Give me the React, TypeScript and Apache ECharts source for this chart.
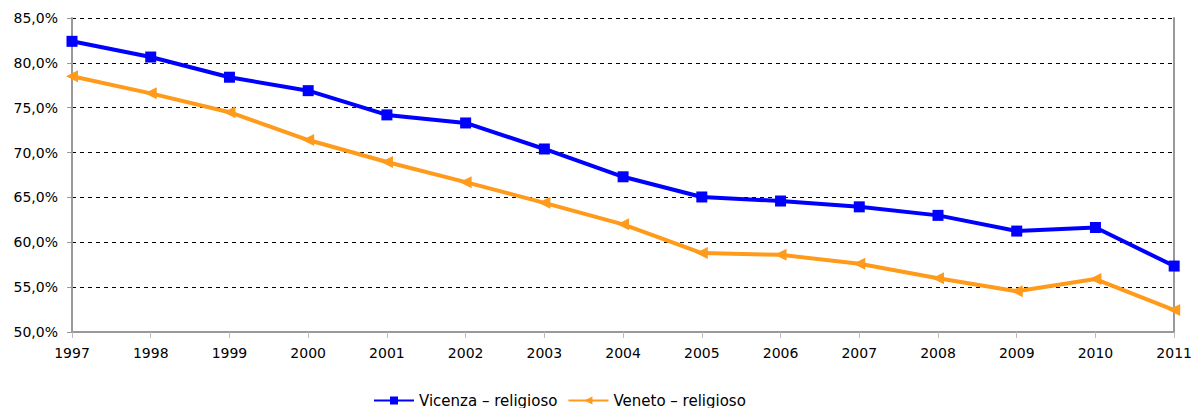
import React, { useEffect, useRef } from "react";
import * as echarts from "echarts";

const years = ["1997","1998","1999","2000","2001","2002","2003","2004","2005","2006","2007","2008","2009","2010","2011"];
const vicenza = [82.4, 80.65, 78.4, 76.9, 74.2, 73.3, 70.4, 67.3, 65.05, 64.6, 63.95, 63.0, 61.25, 61.65, 57.35];
const veneto = [78.5, 76.6, 74.5, 71.4, 68.95, 66.7, 64.4, 62.0, 58.8, 58.6, 57.6, 56.0, 54.55, 55.9, 52.45];
const seriesNames = ["Vicenza – religioso", "Veneto – religioso"];

const FONT = "DejaVu Sans, Verdana, sans-serif";

export default function App() {
  const ref = useRef<HTMLDivElement>(null);
  useEffect(() => {
    document.body.style.margin = "0";
    const chart = echarts.init(ref.current!, null, { renderer: "svg" });
    chart.setOption({
      animation: false,
      backgroundColor: "#ffffff",
      textStyle: { fontFamily: FONT },
      grid: { left: 72, right: 20, top: 18, bottom: 76, containLabel: false },
      legend: {
        left: 373,
        top: 393,
        padding: 0,
        itemWidth: 40,
        itemHeight: 10,
        itemGap: 10,
        textStyle: { fontSize: 15, color: "#000", fontFamily: FONT, lineHeight: 14 },
        data: seriesNames,
      },
      xAxis: {
        type: "category",
        data: years,
        boundaryGap: false,
        axisLine: { lineStyle: { color: "#999", width: 2 } },
        axisTick: { show: true, length: 6, lineStyle: { color: "#bbb", width: 1 } },
        axisLabel: { fontSize: 14, color: "#000", margin: 14, fontFamily: FONT },
        splitLine: { show: false },
      },
      yAxis: [
        {
          type: "value",
          min: 50,
          max: 85,
          interval: 5,
          axisLine: { show: true, lineStyle: { color: "#999", width: 2 } },
          axisTick: { show: true, length: 5, lineStyle: { color: "#999" } },
          axisLabel: {
            fontSize: 14,
            color: "#000",
            margin: 14,
            fontFamily: FONT,
            formatter: (v: number) => v.toFixed(1).replace(".", ",") + "%",
          },
          splitLine: { show: true, lineStyle: { color: "#000", type: [4, 4], width: 1 } },
        },
        {
          type: "value",
          position: "right",
          min: 50,
          max: 85,
          interval: 5,
          axisLine: { show: true, lineStyle: { color: "#999", width: 2 } },
          axisTick: { show: false },
          axisLabel: { show: false },
          splitLine: { show: false },
        },
      ],
      series: [
        {
          name: seriesNames[0],
          type: "line",
          data: vicenza,
          color: "#0000ff",
          lineStyle: { width: 4, color: "#0000ff" },
          symbol: "rect",
          symbolSize: 11,
          itemStyle: { color: "#0000ff" },
          z: 3,
        },
        {
          name: seriesNames[1],
          type: "line",
          data: veneto,
          color: "#ff9a1a",
          lineStyle: { width: 4, color: "#ff9a1a" },
          symbol: "triangle",
          symbolRotate: 90,
          symbolSize: 12,
          itemStyle: { color: "#ff9a1a" },
          z: 2,
        },
      ],
    });
    return () => chart.dispose();
  }, []);
  return <div ref={ref} style={{ width: 1195, height: 408 }} />;
}
